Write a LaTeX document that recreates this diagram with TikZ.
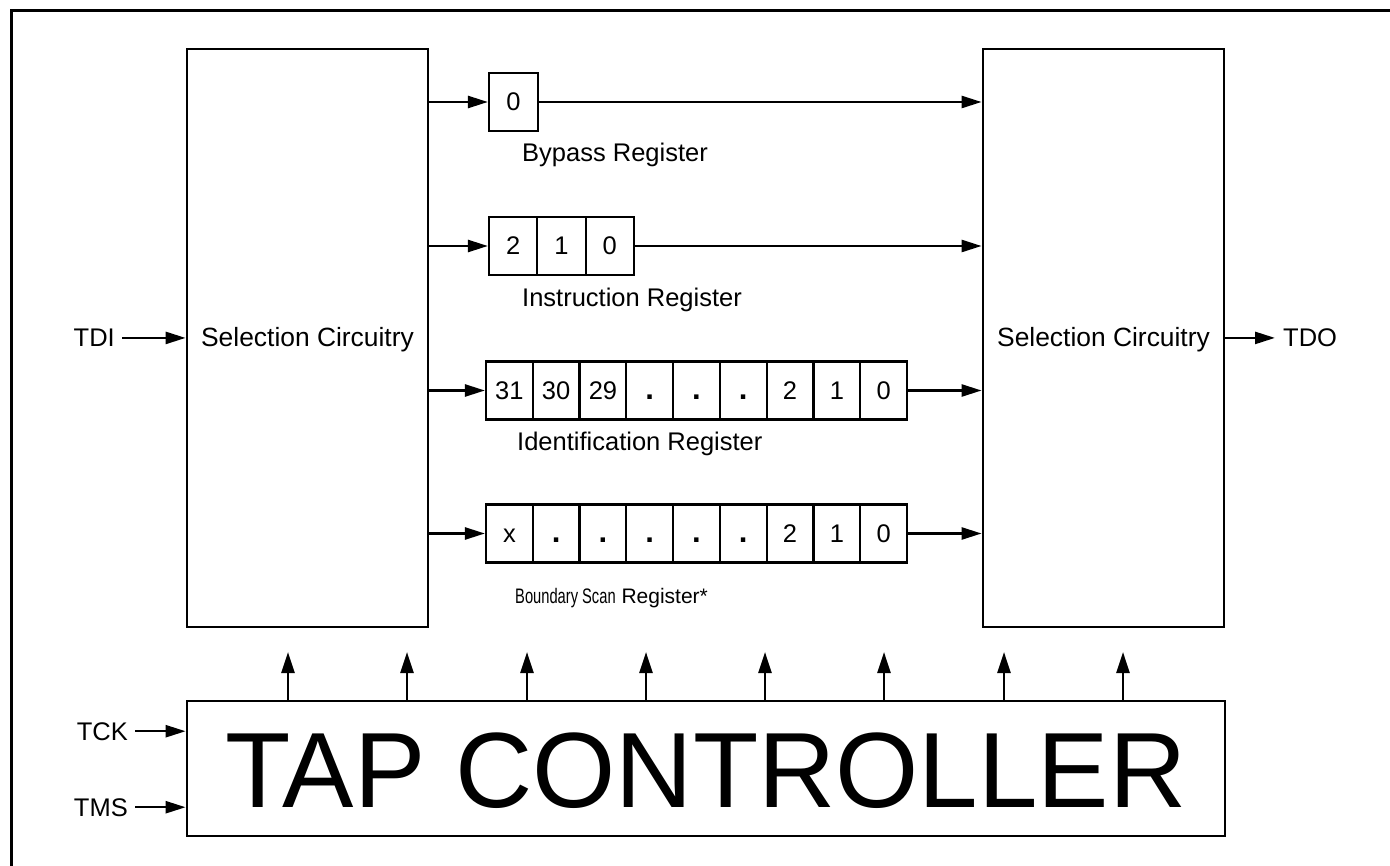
\documentclass[tikz,border=0pt]{standalone}
\usepackage{fontspec}
\usepackage{graphicx}
\setmainfont{Liberation Sans}
\usetikzlibrary{arrows.meta}
\newcommand{\bitdot}{{\fontsize{31}{31}\selectfont\bfseries .}}
\begin{document}
\begin{tikzpicture}[x=1pt,y=-1pt,
  txt/.style={font=\fontsize{25.5}{30}\selectfont, inner sep=0pt},
  selbox/.style={draw, line width=2.8pt, minimum width=241pt, minimum height=578pt, inner sep=0pt,
    text height=18pt, text depth=0pt, font=\fontsize{26.4}{30}\selectfont},
  cell/.style={draw, line width=2.2pt, minimum height=58pt, inner sep=0pt,
    text height=17.5pt, text depth=0pt, font=\fontsize{25.5}{30}\selectfont},
  arr/.style={line width=2.5pt, -{Triangle[length=20pt,width=12pt]}},
  uparr/.style={line width=2.5pt, -{Triangle[length=21pt,width=13pt]}}]
\clip (0,0) rectangle (1390,866);
\draw[line width=3pt] (11,11) rectangle (1420,900);

% selection boxes
\node[selbox] (lsel) at (307.5,338) {Selection Circuitry};
\node[selbox] (rsel) at (1103.5,338) {Selection Circuitry};

% TAP controller
\node[draw, line width=2.8pt, minimum width=1038pt, minimum height=135pt, inner sep=0pt,
  text height=77pt, text depth=0pt, font=\fontsize{107}{120}\selectfont] (tap) at (706,768.5) {TAP CONTROLLER};

% bypass register
\node[cell, minimum width=49pt] (bp1) at (513.5,102) {0};
\node[txt, anchor=base west] (bplab) at (522,161.5) {Bypass Register};

% instruction register
\foreach \t [count=\i] in {2,1,0}
  \node[cell, minimum width=48.3pt] (ir\i) at ({489+48.3*(\i-0.5)},246) {\t};
\node[txt, anchor=base west] (irlab) at (522,307) {Instruction Register};

% identification register
\foreach \t [count=\i] in {31,30,29,\bitdot,\bitdot,\bitdot,2,1,0}
  \node[cell, minimum width=46.8pt] (id\i) at ({486+46.78*(\i-0.5)},390.5) {\t};
\node[txt, anchor=base west] (idlab) at (517,451) {Identification Register};

% boundary scan register
\foreach \t [count=\i] in {x,\bitdot,\bitdot,\bitdot,\bitdot,\bitdot,2,1,0}
  \node[cell, minimum width=46.8pt] (bs\i) at ({486+46.78*(\i-0.5)},533.5) {\t};
\node[txt, anchor=base west, font=\fontsize{21}{25}\selectfont] (bslab) at (515,603)
  {\scalebox{0.7}[1]{Boundary Scan} Register*};

% register connectors
\draw[arr] (lsel.east |- bp1.west) -- (bp1.west);
\draw[arr] (bp1.east) -- (rsel.west |- bp1.east);
\draw[arr] (lsel.east |- ir1.west) -- (ir1.west);
\draw[arr] (ir3.east) -- (rsel.west |- ir3.east);
\draw[arr] (lsel.east |- id1.west) -- (id1.west);
\draw[arr] (id9.east) -- (rsel.west |- id9.east);
\draw[arr] (lsel.east |- bs1.west) -- (bs1.west);
\draw[arr] (bs9.east) -- (rsel.west |- bs9.east);

% TDI / TDO
\node[txt, anchor=base east] (tdi) at (115,346.7) {TDI};
\draw[arr] ([xshift=7pt]tdi.east) -- (lsel.west |- tdi.east);
\node[txt, anchor=base west] (tdo) at (1283,346.7) {TDO};
\draw[arr] (rsel.east |- tdo.west) -- ([xshift=-8pt]tdo.west);

% TCK / TMS
\node[txt, anchor=base east] (tck) at (128,740) {TCK};
\draw[arr] ([xshift=7pt]tck.east) -- (tap.west |- tck.east);
\node[txt, anchor=base east] (tms) at (128,816) {TMS};
\draw[arr] ([xshift=7pt]tms.east) -- (tap.west |- tms.east);

% control arrows
\foreach \x [count=\i] in {288,407,527,646,765,884,1004,1123} {
  \coordinate (u\i) at (\x,652);
  \draw[uparr] (tap.north -| u\i) -- (u\i);
}
\end{tikzpicture}
\end{document}
